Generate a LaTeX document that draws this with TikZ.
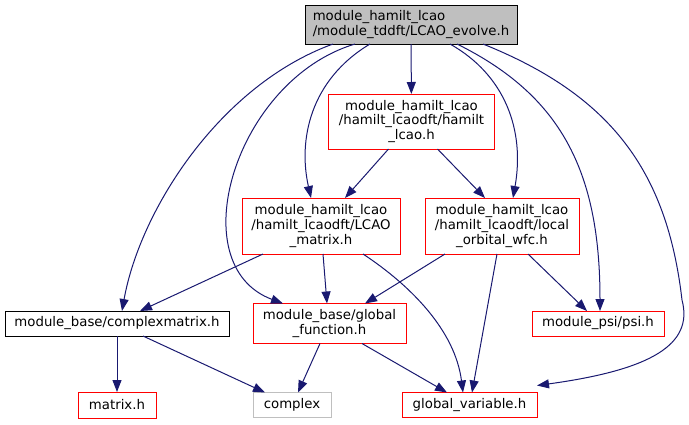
\documentclass[tikz,border=0pt]{standalone}
\usepackage{fontspec}
\setmainfont{DejaVu Sans}
\usetikzlibrary{arrows.meta,calc}
\definecolor{edgeblue}{HTML}{191970}
\definecolor{boxgray}{HTML}{BFBFBF}
\definecolor{boxred}{HTML}{FF0000}
\begin{document}
\begin{tikzpicture}[x=1pt,y=-1pt,
  every node/.style={font=\fontsize{13.3}{14.6}\selectfont, inner sep=0pt, outer sep=0pt, line width=1pt},
  filebox/.style={draw=boxred, minimum width=#1},
  rootbox/.style={draw=black, fill=boxgray, minimum width=212pt, minimum height=39pt},
  blackbox/.style={draw=black},
  graybox/.style={draw=boxgray},
  dep/.style={draw=edgeblue, line width=1pt, -{Triangle[length=12pt,width=9pt]}},
]
\useasboundingbox (0,0) rectangle (689,424);

\node[rootbox, align=left] (top) at (411,24.5) {module\_hamilt\_lcao\\/module\_tddft/LCAO\_evolve.h};
\node[filebox=166pt, minimum height=55pt, align=center] (hl) at (411.5,121.5) {module\_hamilt\_lcao\\/hamilt\_lcaodft/hamilt\\\_lcao.h};
\node[filebox=158pt, minimum height=56pt, align=center] (lm) at (321,226) {module\_hamilt\_lcao\\/hamilt\_lcaodft/LCAO\\\_matrix.h};
\node[filebox=154pt, minimum height=56pt, align=center] (lo) at (502,226) {module\_hamilt\_lcao\\/hamilt\_lcaodft/local\\\_orbital\_wfc.h};
\node[blackbox, minimum width=224pt, minimum height=25pt] (cm) at (117,323.5) {module\_base/complexmatrix.h};
\node[filebox=153pt, minimum height=40pt, align=center] (gf) at (329.5,323.5) {module\_base/global\\\_function.h};
\node[filebox=132pt, minimum height=25pt] (psi) at (598,323.5) {module\_psi/psi.h};
\node[filebox=78pt, minimum height=26pt] (mx) at (117,405) {matrix.h};
\node[graybox, minimum width=78pt, minimum height=25pt] (cx) at (292,405) {complex};
\node[filebox=135pt, minimum height=25pt] (gv) at (469.5,405) {global\_variable.h};

% edges from the root
\draw[dep] ($(top.south west)+(28,0)$) .. controls (220,85) and (140,210) .. ($(cm.north west)+(117,0)$);
\draw[dep] ($(top.south west)+(50,0)$) .. controls (235,80) and (180,265) .. ($(gf.north west)+(30,0)$);
\draw[dep] ($(top.south west)+(65,0)$) .. controls (310,80) and (298,140) .. ($(lm.north west)+(69,0)$);
\draw[dep] (top) -- (hl);
\draw[dep] ($(top.south west)+(145,0)$) .. controls (505,75) and (525,130) .. ($(lo.north west)+(88,0)$);
\draw[dep] ($(top.south west)+(152,0)$) .. controls (560,95) and (600,170) .. ($(psi.north west)+(68,0)$);
\draw[dep] ($(top.south west)+(178,0)$) .. controls (610,95) and (667,170) .. (682,300) .. controls (694,345) and (650,370) .. ($(gv.north east)+(0,-7)$);

% other edges
\draw[dep] ($(hl.south west)+(60,0)$) -- ($(lm.north west)+(103,0)$);
\draw[dep] ($(hl.south west)+(109,0)$) -- ($(lo.north west)+(60,0)$);
\draw[dep] ($(lm.south west)+(21,0)$) -- ($(cm.north west)+(135,0)$);
\draw[dep] ($(lm.south west)+(81,0)$) -- ($(gf.north west)+(74,0)$);
\draw[dep] ($(lm.south west)+(121,0)$) .. controls (410,285) and (455,330) .. ($(gv.north west)+(61,0)$);
\draw[dep] ($(lo.south west)+(20,0)$) -- ($(gf.north west)+(112,0)$);
\draw[dep] ($(lo.south west)+(72,0)$) -- ($(gv.north west)+(70,0)$);
\draw[dep] ($(lo.south west)+(103,0)$) -- ($(psi.north west)+(55,0)$);
\draw[dep] (cm) -- (mx);
\draw[dep] ($(cm.south west)+(138,0)$) -- ($(cx.north west)+(12,0)$);
\draw[dep] ($(gf.south west)+(67,0)$) -- ($(cx.north west)+(45,0)$);
\draw[dep] ($(gf.south west)+(109,0)$) -- ($(gv.north west)+(45,0)$);
\end{tikzpicture}
\end{document}
